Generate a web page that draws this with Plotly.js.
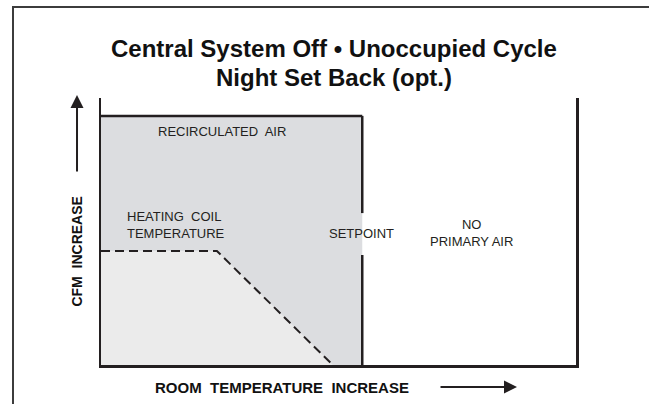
<!DOCTYPE html>
<html>
<head>
<meta charset="utf-8">
<script src="https://cdn.plot.ly/plotly-3.0.1.min.js"></script>
<style>
  html, body { margin: 0; padding: 0; background: #fff; }
  #wrap { position: relative; width: 649px; height: 404px; overflow: hidden; }
  #chart { position: absolute; left: 0; top: 0; width: 649px; height: 404px; }
  #frame { position: absolute; left: 12px; top: 6px; width: 700px; height: 500px;
           border-left: 2px solid #3c3c3c; border-top: 2px solid #3c3c3c; pointer-events: none; }
</style>
</head>
<body>
<div id="wrap">
  <div id="chart"></div>
  <div id="frame"></div>
</div>
<script>
// ---- data (room temperature on x, CFM on y, arbitrary 0-10 scale) ----
const axisRange = [0, 10];
const setpointX = 5.5;
const recircTopY = 9.33;
const recircX = [0, 0, setpointX, setpointX];
const recircY = [0, recircTopY, recircTopY, 0];
const heatX = [0, 0, 2.44, 4.88];
const heatY = [0, 4.27, 4.27, 0];
const setpointLowerY = [0, 4.12];
const setpointUpperY = [5.69, recircTopY];
const labelTexts = ['RECIRCULATED  AIR', 'HEATING  COIL<br>TEMPERATURE', 'SETPOINT', 'NO<br>PRIMARY AIR'];
const labelX = [2.55, 0.505, 5.48, 7.79];
const labelY = [8.73, 5.26, 4.94, 4.96];
const labelAnchor = ['center', 'left', 'center', 'center'];
const titleLines = ['Central System Off • Unoccupied Cycle', 'Night Set Back (opt.)'];
const xLabel = 'ROOM  TEMPERATURE  INCREASE';
const yLabel = 'CFM  INCREASE';

const ink = '#231f20';
const font = 'Liberation Sans, Arial, Helvetica, sans-serif';

const traces = [
  { x: recircX, y: recircY, type: 'scatter', mode: 'lines', fill: 'toself',
    fillcolor: '#dcdde0', line: { width: 0 }, hoverinfo: 'skip' },
  { x: heatX, y: heatY, type: 'scatter', mode: 'lines', fill: 'toself',
    fillcolor: '#ebebeb', line: { width: 0 }, hoverinfo: 'skip' },
  { x: heatX.slice(1), y: heatY.slice(1), type: 'scatter', mode: 'lines',
    line: { color: ink, width: 2, dash: '9px,5px' }, hoverinfo: 'skip' },
  { x: recircX.slice(1, 3), y: recircY.slice(1, 3), type: 'scatter', mode: 'lines',
    line: { color: ink, width: 2.5 }, hoverinfo: 'skip' },
  { x: [setpointX, setpointX], y: setpointLowerY, type: 'scatter', mode: 'lines',
    line: { color: ink, width: 2.5 }, hoverinfo: 'skip' },
  { x: [setpointX, setpointX], y: setpointUpperY, type: 'scatter', mode: 'lines',
    line: { color: ink, width: 2.5 }, hoverinfo: 'skip' }
];

const annotations = labelTexts.map((t, i) => ({
  text: t, xref: 'x', yref: 'y', x: labelX[i], y: labelY[i], showarrow: false,
  xanchor: labelAnchor[i], yanchor: 'middle', align: labelAnchor[i],
  font: { family: font, size: 13, color: '#231f20' }
}));

annotations.push(
  // title lines
  { text: '<b>' + titleLines[0] + '</b>', xref: 'paper', yref: 'paper', x: 0.4905, y: (365 - 48) / 267,
    showarrow: false, xanchor: 'center', yanchor: 'middle', font: { family: font, size: 24, color: '#111' } },
  { text: '<b>' + titleLines[1] + '</b>', xref: 'paper', yref: 'paper', x: 0.4905, y: (365 - 77) / 267,
    showarrow: false, xanchor: 'center', yanchor: 'middle', font: { family: font, size: 24, color: '#111' } },
  // y axis label
  { text: '<b>' + yLabel + '</b>', xref: 'paper', yref: 'paper', x: -0.0505, y: 0.425,
    textangle: -90, showarrow: false, font: { family: font, size: 14, color: '#111' },
    xanchor: 'center', yanchor: 'middle' },
  // x axis label
  { text: '<b>' + xLabel + '</b>', xref: 'paper', yref: 'paper', x: 0.38, y: -0.0824,
    showarrow: false, font: { family: font, size: 15, color: '#111' },
    xanchor: 'center', yanchor: 'middle' },
  // y arrow
  { text: '', xref: 'paper', yref: 'paper', x: -0.0505, y: 1.011, ax: 0, ay: 78,
    showarrow: true, arrowhead: 2, arrowsize: 1.3, arrowwidth: 2, arrowcolor: ink },
  // x arrow
  { text: '', xref: 'paper', yref: 'paper', x: 0.8758, y: -0.0824, ax: -78, ay: 0,
    showarrow: true, arrowhead: 2, arrowsize: 1.3, arrowwidth: 2, arrowcolor: ink }
);

const layout = {
  width: 649, height: 404,
  margin: { l: 101, r: 73, t: 98, b: 39, pad: 0 },
  paper_bgcolor: '#fff', plot_bgcolor: '#fff',
  showlegend: false,
  xaxis: { range: axisRange, showgrid: false, zeroline: false, showticklabels: false,
           ticks: '', showline: true, linecolor: ink, linewidth: 2.5, fixedrange: true },
  yaxis: { range: axisRange, showgrid: false, zeroline: false, showticklabels: false,
           ticks: '', showline: true, mirror: true, linecolor: ink, linewidth: 2.5, fixedrange: true },
  annotations: annotations
};

Plotly.newPlot('chart', traces, layout, { staticPlot: true, displayModeBar: false });
</script>
</body>
</html>
